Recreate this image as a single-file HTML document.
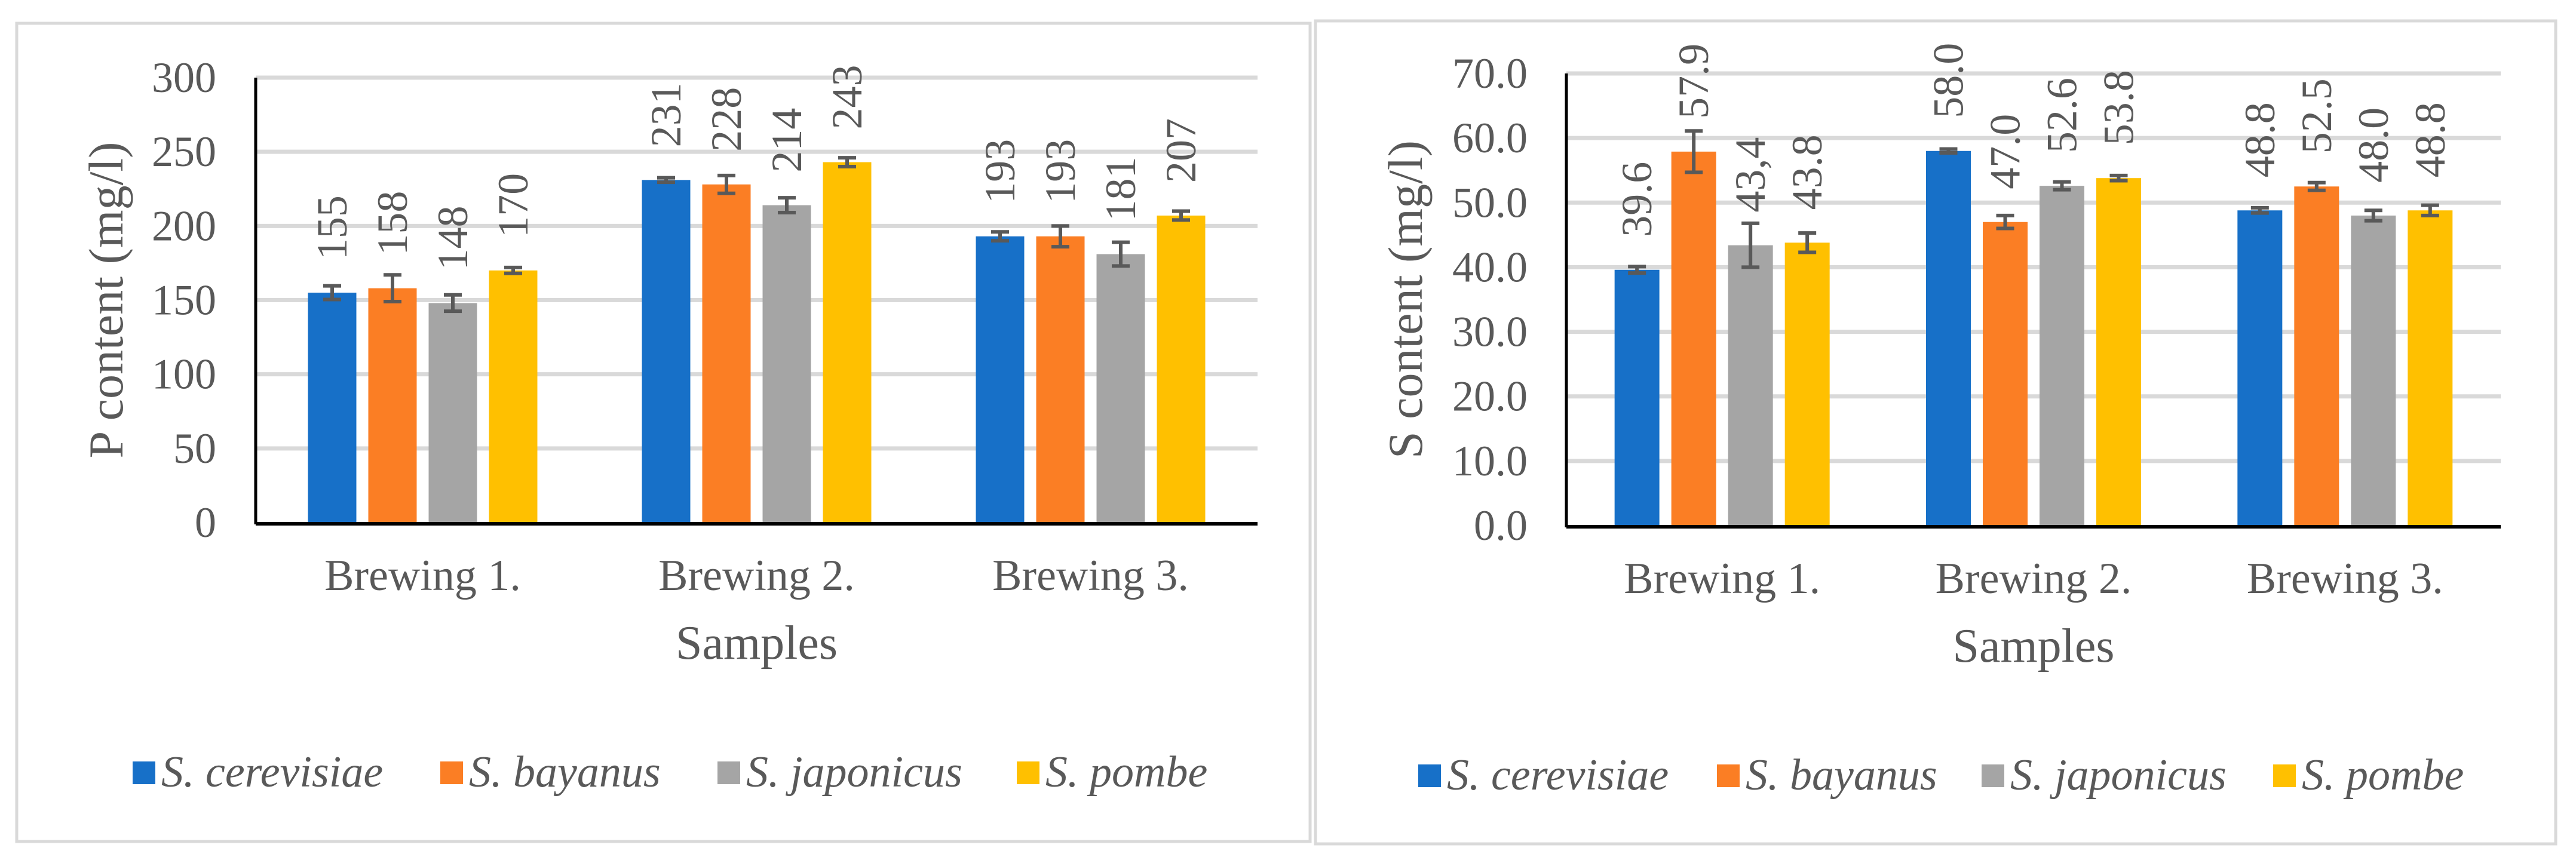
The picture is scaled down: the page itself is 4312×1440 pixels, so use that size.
<!DOCTYPE html>
<html><head><meta charset="utf-8"><style>html,body{margin:0;padding:0;background:#fff}svg{display:block}svg text{font-family:'Liberation Serif','Times New Roman','DejaVu Serif',serif;fill:#595959}</style></head>
<body>
<svg id="s" width="4312" height="1440" viewBox="0 0 4312 1440" xmlns="http://www.w3.org/2000/svg" font-family="'Liberation Serif', 'DejaVu Serif', serif">
<rect x="28" y="39" width="2165" height="1370" fill="#fff" stroke="#d9d9d9" stroke-width="5"/>
<rect x="2202" y="35" width="2076" height="1378" fill="#fff" stroke="#d9d9d9" stroke-width="5"/>
</svg>
<script>
const categories = ["Brewing 1.", "Brewing 2.", "Brewing 3."];
const seriesNames = ["S. cerevisiae", "S. bayanus", "S. japonicus", "S. pombe"];
const colors = ["#1770c8", "#fb7e24", "#a5a5a5", "#ffc000"];
const pValues = [[155, 231, 193], [158, 228, 193], [148, 214, 181], [170, 243, 207]];
const pErrors = [[4.6, 1.5, 3], [9, 6, 7], [5.5, 5, 8], [2, 3, 3]];
const pLabels = [["155", "231", "193"], ["158", "228", "193"], ["148", "214", "181"], ["170", "243", "207"]];
const pTicks = ["0", "50", "100", "150", "200", "250", "300"];
const sValues = [[39.6, 58.0, 48.8], [57.9, 47.0, 52.5], [43.4, 52.6, 48.0], [43.8, 53.8, 48.8]];
const sErrors = [[0.5, 0.3, 0.4], [3.2, 1.0, 0.6], [3.4, 0.6, 0.8], [1.5, 0.4, 0.8]];
const sLabels = [["39.6", "58.0", "48.8"], ["57.9", "47.0", "52.5"], ["43,4", "52.6", "48.0"], ["43.8", "53.8", "48.8"]];
const sTicks = ["0.0", "10.0", "20.0", "30.0", "40.0", "50.0", "60.0", "70.0"];

const svg = document.getElementById('s');
const NS = 'http://www.w3.org/2000/svg';
const FONT = "'Liberation Serif', 'DejaVu Serif', serif";
function mk(tag, attrs, txt) {
  const e = document.createElementNS(NS, tag);
  for (const k in attrs) e.setAttribute(k, attrs[k]);
  if (txt !== undefined) { e.textContent = txt; e.setAttribute('font-family', FONT); }
  svg.appendChild(e);
  return e;
}

function chart(c) {
  const yMax = c.tickStep * (c.ticks.length - 1);
  const yS = v => c.y0 - (v / yMax) * (c.y0 - c.yTop);
  const groupW = (c.x1 - c.x0) / categories.length;
  const xC = i => c.x0 + groupW * (i + 0.5);
  c.ticks.forEach((t, i) => {
    const y = yS(i * c.tickStep);
    if (i > 0) {
      const g = mk('line', {x1: c.x0, x2: c.x1, y1: y, y2: y, stroke: '#d9d9d9', 'stroke-width': 7});
      
      
    }
    const tl = mk('text', {x: c.tickX, y: y + 24, 'font-size': 72, 'text-anchor': 'end'}, t);
    
    
  });
  const pitch = c.barW + c.gap;
  seriesNames.forEach((sn, s) => {
    categories.forEach((cat, i) => {
      const cx = xC(i) + (s - 1.5) * pitch;
      const v = c.values[s][i];
      const top = yS(v);
      const b = mk('rect', {x: cx - c.barW / 2, y: top, width: c.barW, height: c.y0 - top, fill: colors[s]});
      
      
      const e = c.errors[s][i];
      const eT = yS(v + e), eB = yS(v - e);
      const eg = mk('path', {d: `M${cx},${eT}V${eB}M${cx - 15},${eT}H${cx + 15}M${cx - 15},${eB}H${cx + 15}`, stroke: '#595959', 'stroke-width': 6, fill: 'none'});
      
      
      const lx = cx + 24, ly = top - 55;
      const dl = mk('text', {x: lx, y: ly, 'font-size': 72, transform: `rotate(-90 ${lx} ${ly})`}, c.labels[s][i]);
      
      
    });
  });
  const ya = mk('line', {x1: c.x0, x2: c.x0, y1: c.yTop, y2: c.y0 + 3, stroke: '#000', 'stroke-width': 5});
  
  
  const xa = mk('line', {x1: c.x0, x2: c.x1, y1: c.y0 + 2, y2: c.y0 + 2, stroke: '#000', 'stroke-width': 6});
  
  
  categories.forEach((cat, i) => {
    const t = mk('text', {x: xC(i), y: c.catY, 'font-size': 74, 'text-anchor': 'middle'}, cat);
    
    
  });
  const xt = mk('text', {x: (c.x0 + c.x1) / 2, y: c.catY + 115, 'font-size': 80, 'text-anchor': 'middle'}, 'Samples');
  
  
  const ty = (c.yTop + c.y0) / 2;
  const yt = mk('text', {x: c.titleX, y: ty, 'font-size': 82, 'text-anchor': 'middle', transform: `rotate(-90 ${c.titleX} ${ty})`}, c.title);
  
  
  seriesNames.forEach((sn, s) => {
    const lx = c.legendX[s];
    const sq = mk('rect', {x: lx, y: c.legY - 42, width: 38, height: 38, fill: colors[s]});
    
    
    const lt = mk('text', {x: lx + 48, y: c.legY, 'font-size': 74, 'font-style': 'italic'}, sn);
    
    
  });
}

chart({x0: 428, x1: 2105, y0: 875, yTop: 130, ticks: pTicks, tickStep: 50, tickX: 362,
  values: pValues, errors: pErrors, labels: pLabels, barW: 81, gap: 20, catY: 988, titleX: 205,
  title: 'P content (mg/l)', legY: 1317, legendX: [222, 737, 1201, 1702]});
chart({x0: 2622, x1: 4186, y0: 880, yTop: 123, ticks: sTicks, tickStep: 10, tickX: 2557,
  values: sValues, errors: sErrors, labels: sLabels, barW: 75, gap: 20, catY: 993, titleX: 2380,
  title: 'S content (mg/l)', legY: 1322, legendX: [2374, 2874, 3317, 3805]});
</script>
</body></html>
